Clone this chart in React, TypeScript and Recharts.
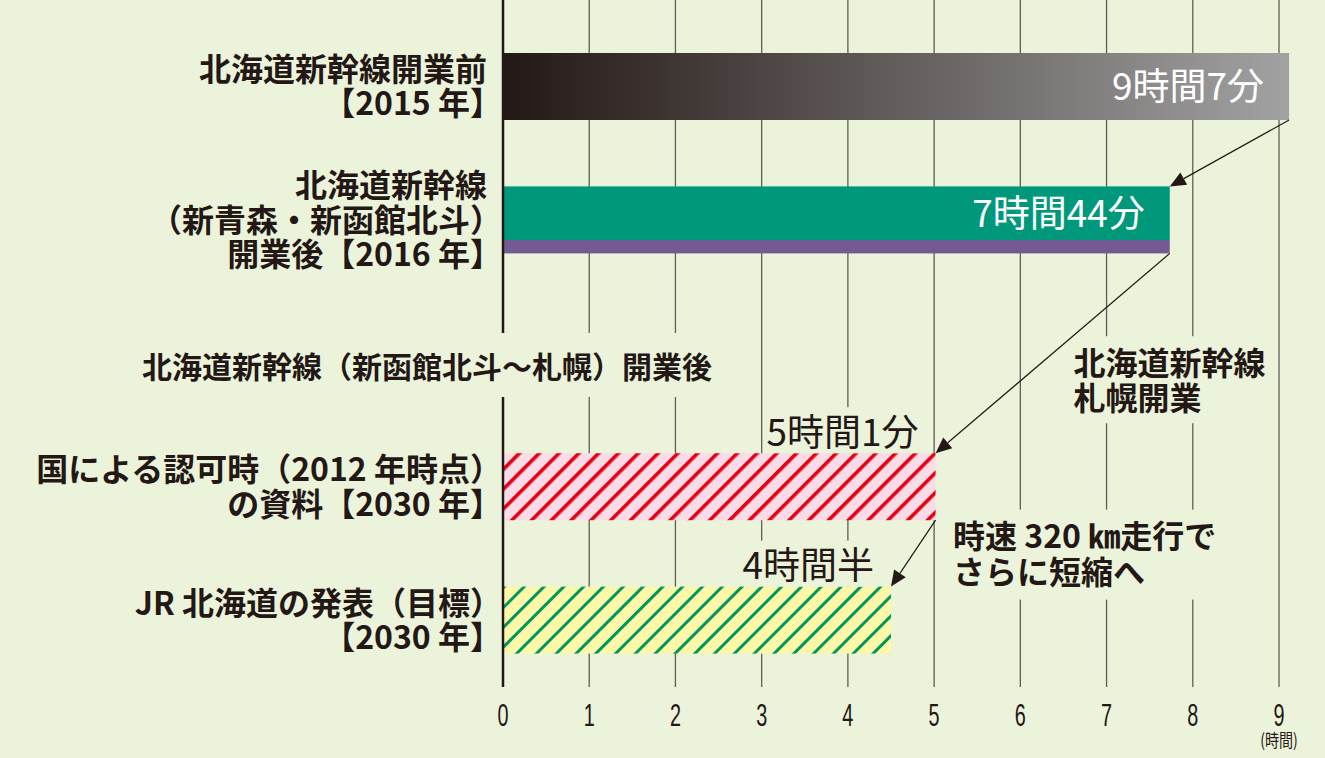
import React from 'react';
import { BarChart, Bar, XAxis, YAxis, CartesianGrid, Cell } from 'recharts';

// rows, top to bottom (the third row is only a heading, it has no bar)
const rowKeys = ['before2015', 'open2016', 'sapporoHeading', 'plan2012', 'jrTarget'];
const rowLabels = [
  ['北海道新幹線開業前', '【2015 年】'],
  ['北海道新幹線', '（新青森・新函館北斗）', '開業後【2016 年】'],
  ['北海道新幹線（新函館北斗〜札幌）開業後'],
  ['国による認可時（2012 年時点）', 'の資料【2030 年】'],
  ['JR 北海道の発表（目標）', '【2030 年】'],
];
// travel time Tokyo - Sapporo, in hours (9h07, 7h44, -, 5h01, 4h30)
const hours = [9.117, 7.733, null, 5.017, 4.5];
const valueLabels = ['9時間7分', '7時間44分', '', '5時間1分', '4時間半'];
const xTicks = [0, 1, 2, 3, 4, 5, 6, 7, 8, 9];
// arrows: [from row, to row]
const arrowLinks = [[0, 1], [1, 3], [3, 4]];
const notes = [
  { row: 3, lines: ['北海道新幹線', '札幌開業'] },
  { row: 4, lines: ['時速 320 ㎞走行で', 'さらに短縮へ'] },
];

const BG = '#EBF3DA';
const INK = '#231815';
const JP = "'Noto Sans CJK JP', 'Noto Sans', sans-serif";
const fills = ['url(#gradGray)', 'url(#gradGreen)', 'none', 'url(#hatchRed)', 'url(#hatchGreen)'];

const data = rowKeys.map((key, i) => ({ key, hours: hours[i] }));

type Box = { x: number; y: number; width: number; height: number };
const placed: Record<number, Box> = {};

function arrow(x1: number, y1: number, x2: number, y2: number) {
  const dx = x2 - x1;
  const dy = y2 - y1;
  const len = Math.hypot(dx, dy);
  const ux = dx / len;
  const uy = dy / len;
  const L = 16;
  const hw = 7;
  const bx = x2 - ux * L;
  const by = y2 - uy * L;
  return (
    <g>
      <line x1={x1} y1={y1} x2={bx} y2={by} stroke={INK} strokeWidth={1.2} />
      <polygon
        points={`${x2},${y2} ${bx - uy * hw},${by + ux * hw} ${bx + uy * hw},${by - ux * hw}`}
        fill={INK}
      />
    </g>
  );
}

const BarShape = (props: any) => {
  const { x, y, width, height, fill, payload } = props;
  if (width == null || !height) return null;
  const row = rowKeys.indexOf(payload?.key);
  placed[row] = { x, y, width, height };
  const right = x + width;
  const label = valueLabels[row];
  const inside = row < 2;

  const link = arrowLinks.find((l) => l[1] === row);
  const src = link ? placed[link[0]] : null;
  const note = notes.find((n) => n.row === row);

  return (
    <g>
      <rect x={x} y={y} width={width} height={height} fill={fill} />
      {label && inside && (
        <text
          x={right - 25}
          y={row === 0 ? y + height / 2 : y + 27}
          dy="0.36em"
          textAnchor="end"
          fill="#fff"
          fontFamily={JP}
          fontSize={37}
        >
          {label}
        </text>
      )}
      {label && !inside && (
        <g>
          <rect
            x={right - (row === 3 ? 170 : 142)}
            y={y - 46}
            width={row === 3 ? 164 : 130}
            height={46}
            fill={BG}
          />
          <text
            x={right - 17}
            y={y - 21}
            dy="0.36em"
            textAnchor="end"
            fill={INK}
            fontFamily={JP}
            fontSize={37}
          >
            {label}
          </text>
        </g>
      )}
      {note && (
        <g>
          <rect
            x={right + (row === 3 ? 133 : 57)}
            y={y - (row === 3 ? 117 : 77)}
            width={row === 3 ? 202 : 275}
            height={row === 3 ? 87 : 90}
            fill={BG}
          />
          {note.lines.map((ln, k) => (
            <text
              key={k}
              x={right + (row === 3 ? 138 : 62)}
              y={y - (row === 3 ? 90 : 50) + k * 35.5}
              dy="0.36em"
              fill={INK}
              fontFamily={JP}
              fontWeight={700}
              fontSize={32}
            >
              {ln}
            </text>
          ))}
        </g>
      )}
      {src && arrow(src.x + src.width, src.y + src.height, right, y)}
    </g>
  );
};

const YTick = (props: any) => {
  const { x, y, payload } = props;
  const i = rowKeys.indexOf(payload.value);
  const lines = rowLabels[i] || [];
  if (i === 2) {
    return (
      <g>
        <rect x={x - 357} y={y - 20.5} width={615} height={64} fill={BG} />
        <text
          x={x - 60}
          y={y + 13.5}
          dy="0.36em"
          textAnchor="middle"
          fill={INK}
          fontFamily={JP}
          fontWeight={700}
          fontSize={30}
        >
          {lines[0]}
        </text>
      </g>
    );
  }
  const lh = 34.5;
  const top = y - ((lines.length - 1) * lh) / 2;
  return (
    <g>
      {lines.map((ln, k) => (
        <text
          key={k}
          // a closing full-width bracket leaves half an em blank on its right
          x={/[）】]$/.test(ln) ? x + 15 : x}
          y={top + k * lh}
          dy="0.36em"
          textAnchor="end"
          fill={INK}
          fontFamily={JP}
          fontWeight={700}
          fontSize={32}
        >
          {ln}
        </text>
      ))}
    </g>
  );
};

const XTick = (props: any) => {
  const { x, y, payload } = props;
  return (
    <g>
      <text
        transform={`translate(${x},${y + 31}) scale(0.62,1)`}
        textAnchor="middle"
        fill={INK}
        fontFamily="'Liberation Sans', Arial, sans-serif"
        fontSize={32}
      >
        {payload.value}
      </text>
      {payload.value === 9 && (
        <text
          transform={`translate(${x},${y + 52}) scale(0.78,1)`}
          textAnchor="middle"
          fill={INK}
          fontFamily={JP}
          fontSize={18}
        >
          (時間)
        </text>
      )}
    </g>
  );
};

export default function App() {
  return (
    <div style={{ position: 'absolute', left: 0, top: 0, width: 1325, height: 758, background: BG }}>
      <BarChart
        width={1325}
        height={758}
        data={data}
        layout="vertical"
        margin={{ top: 0, right: 11.5, bottom: 0, left: 0 }}
        barSize={67}
      >
        <defs>
          <linearGradient id="gradGray" x1="0" y1="0" x2="1" y2="0">
            <stop offset="0%" stopColor="#231815" />
            <stop offset="100%" stopColor="#A2A2A2" />
          </linearGradient>
          <linearGradient id="gradGreen" x1="0" y1="0" x2="0" y2="1">
            <stop offset="0%" stopColor="#00987A" />
            <stop offset="80.5%" stopColor="#00987A" />
            <stop offset="80.5%" stopColor="#745A93" />
            <stop offset="100%" stopColor="#745A93" />
          </linearGradient>
          <pattern id="hatchRed" patternUnits="userSpaceOnUse" width={14} height={14} patternTransform="rotate(45)">
            <rect width={14} height={14} fill="#FADCE8" />
            <rect width={3.6} height={14} fill="#E60012" />
          </pattern>
          <pattern id="hatchGreen" patternUnits="userSpaceOnUse" width={14} height={14} patternTransform="rotate(45)">
            <rect width={14} height={14} fill="#FDF7A8" />
            <rect width={3} height={14} fill="#00975E" />
          </pattern>
        </defs>
        <CartesianGrid horizontal={false} stroke="#5E5E56" strokeWidth={1.3} verticalValues={xTicks} />
        <XAxis
          type="number"
          domain={[0, 9.4]}
          ticks={xTicks}
          axisLine={false}
          tickLine={false}
          height={71}
          tick={<XTick />}
          interval={0}
        />
        <YAxis
          type="category"
          dataKey="key"
          width={503}
          padding={{ top: 20, bottom: 0 }}
          axisLine={{ stroke: INK, strokeWidth: 2.5 }}
          tickLine={false}
          tickSize={6}
          tickMargin={10}
          interval={0}
          tick={<YTick />}
        />
        <Bar dataKey="hours" isAnimationActive={false} shape={<BarShape />}>
          {data.map((d, i) => (
            <Cell key={d.key} fill={fills[i]} />
          ))}
        </Bar>
      </BarChart>
    </div>
  );
}
